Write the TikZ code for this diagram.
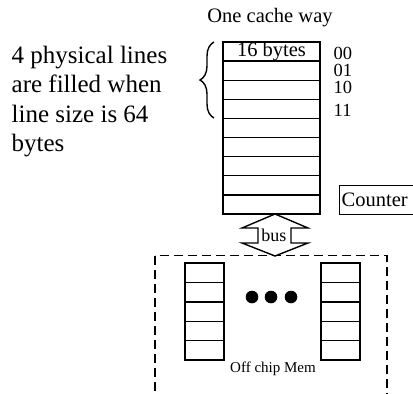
\documentclass[tikz,border=0pt]{standalone}
\usepackage{fontspec}
\setmainfont{Liberation Serif}
\usetikzlibrary{decorations.pathreplacing}
\begin{document}
\begin{tikzpicture}[x=1pt,y=-1pt,line width=1.4pt,
  cell/.style={draw,minimum width=97pt,minimum height=19.1pt,inner sep=0pt,outer sep=0pt,anchor=north west},
  mcell/.style={draw,minimum width=39pt,minimum height=19.4pt,inner sep=0pt,outer sep=0pt,anchor=north west},
  lbl/.style={font=\fontsize{18.5}{20}\selectfont,inner sep=0pt,anchor=west},
  txt/.style={font=\fontsize{20.5}{22}\selectfont,inner sep=0pt}]
\useasboundingbox (0,0) rectangle (413,394);
% title
\node[txt] (title) at (270,18) {One cache way};
% cache way rows
\foreach \i in {0,...,8} {
  \node[cell] (c\i) at (223,{42+\i*19.1}) {};
}
\node[txt] (sixteen) at (c0.center) {16 bytes};
% line labels
\node[lbl] (l00) at (333,53) {00};
\node[lbl] (l01) at (333,70) {01};
\node[lbl] (l10) at (333,87) {10};
\node[lbl] (l11) at (333,110) {11};
% brace
\coordinate (bb) at (214,118);
\coordinate (bt) at (214,42);
\draw[decorate,decoration={brace,amplitude=14pt}] (bb) -- (bt);
% left text
\node[font=\fontsize{25}{29.5}\selectfont,align=left,inner sep=0pt,anchor=north west] (desc) at (11,45)
  {4 physical lines\\are filled when\\line size is 64\\bytes};
% counter
\node[draw,minimum width=78pt,minimum height=29pt,inner sep=0pt,anchor=north west] (counter) at (339,185) {};
\node[txt,anchor=west] (countertxt) at (341,200) {Counter};
% bus arrow
\draw (275,214) -- (242,228) -- (258,228) -- (258,243) -- (242,243) -- (275,256)
   -- (308,243) -- (291,243) -- (291,228) -- (308,228) -- cycle;
\node[font=\fontsize{18}{20}\selectfont,inner sep=0pt] (bus) at (274,235) {bus};
% off chip memory
\draw[dashed,dash pattern=on 9pt off 5pt,line width=1.6pt] (155,255.5) rectangle (387,394.5);
\foreach \i in {0,...,4} {
  \node[mcell] (m\i) at (185,{263+\i*19.4}) {};
  \node[mcell] (n\i) at (321,{263+\i*19.4}) {};
}
\foreach \x in {252,271,291} {
  \fill (\x,297) circle (6.3pt);
}
\node[font=\fontsize{15}{17}\selectfont,inner sep=0pt] (mem) at (273,369) {Off chip Mem};
\end{tikzpicture}
\end{document}
